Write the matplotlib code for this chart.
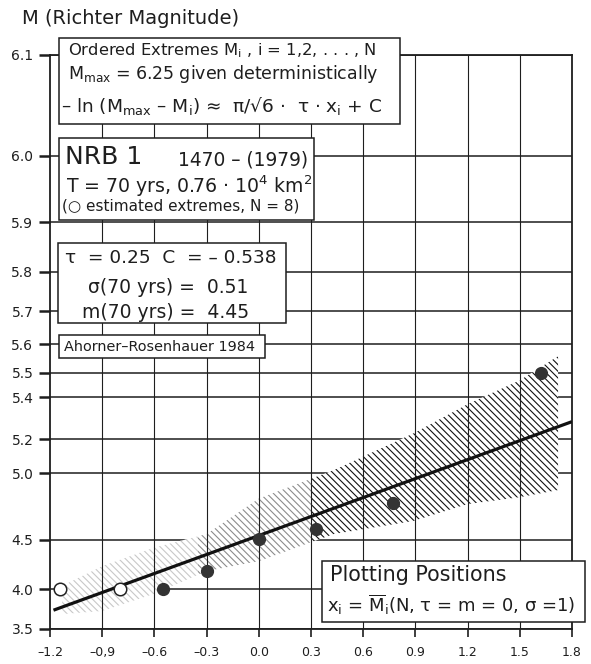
import numpy as np
import matplotlib
matplotlib.use('Agg')
import matplotlib.pyplot as plt
from matplotlib.patches import Rectangle

plt.rcParams['font.family'] = ['DejaVu Sans']
plt.rcParams['mathtext.fontset'] = 'dejavusans'
plt.rcParams['mathtext.default'] = 'regular'
plt.rcParams['hatch.linewidth'] = 0.8

# fit parameters (from the chart text)
M_MAX = 6.25
TAU = 0.25
C = -0.538

# ordered extremes
x_open = [-1.14, -0.80]
m_open = [4.0, 4.0]
x_filled = [-0.55, -0.30, 0.0, 0.33, 0.77, 1.62]
m_filled = [4.0, 4.20, 4.51, 4.59, 4.80, 5.50]

# confidence band
band_x = [-1.13, -0.9, -0.6, -0.3, 0.0, 0.43, 0.89, 1.2, 1.5, 1.72]
band_hi = [4.04, 4.25, 4.43, 4.55, 4.83, 5.02, 5.23, 5.37, 5.47, 5.56]
band_lo = [3.70, 3.74, 3.95, 4.20, 4.30, 4.55, 4.66, 4.79, 4.84, 4.89]

line_x = np.array([-1.18, 1.8])

xticks = [-1.2, -0.9, -0.6, -0.3, 0.0, 0.3, 0.6, 0.9, 1.2, 1.5, 1.8]
xlabels = ['–1.2', '–0,9', '–0.6', '–0.3', '0.0', '0.3', '0.6', '0.9', '1.2', '1.5', '1.8']
yticks = [3.5, 4.0, 4.5, 5.0, 5.2, 5.4, 5.5, 5.6, 5.7, 5.8, 5.9, 6.0, 6.1]


def fwd(m):
    return -np.log(np.clip(M_MAX - np.asarray(m, dtype=float), 1e-9, None))


def inv(f):
    return M_MAX - np.exp(-np.asarray(f, dtype=float))


W, H = 591, 664
fig = plt.figure(figsize=(W / 100, H / 100), dpi=100)
ax = fig.add_axes([50 / W, 1 - 629 / H, 522 / W, 574 / H])
ax.set_yscale('function', functions=(fwd, inv))

ink = '#1e1e1e'

# grid
for m in yticks:
    ax.axhline(m, color=ink, lw=1.1, zorder=1)
for x in xticks[1:-1]:
    ax.axvline(x, color=ink, lw=0.8, zorder=4)

# band: white face hides the horizontal grid, hatch fades to the left
ax.fill_between(band_x, band_lo, band_hi, facecolor='white', edgecolor='none', zorder=2)
for x0, x1, col in [(-1.2, -0.35, '#c8c8c8'), (-0.35, 0.3, '#8c8c8c'), (0.3, 1.8, '#111111')]:
    p = ax.fill_between(band_x, band_lo, band_hi, facecolor='none', edgecolor=col,
                        hatch='\\' * 5, linewidth=0, zorder=3)
    p.set_clip_path(Rectangle((x0, 3.5), x1 - x0, 2.6, transform=ax.transData))

# fitted line: -ln(Mmax - M) = pi/sqrt(6) * tau * x + C
ax.plot(line_x, inv(np.pi / np.sqrt(6) * TAU * line_x + C), color='#111', lw=2.3,
        solid_capstyle='butt', zorder=5)

ax.plot(x_open, m_open, 'o', ms=9, mfc='white', mec='#222', mew=1.1, zorder=6)
ax.plot(x_filled, m_filled, 'o', ms=8.5, mfc='#333', mec='#333', zorder=6)

ax.set_xlim(-1.2, 1.8)
ax.set_ylim(3.5, 6.1)
ax.set_xticks(xticks)
ax.set_xticklabels(xlabels)
ax.set_yticks(yticks)
ax.set_yticklabels([f'{m:.1f}' for m in yticks])
ax.minorticks_off()
ax.tick_params(axis='y', length=8, width=1.8, pad=4, labelsize=10, color=ink, labelcolor=ink)
ax.tick_params(axis='x', length=6, width=1.2, pad=6, labelsize=9, color=ink, labelcolor=ink)
for s in ax.spines.values():
    s.set_linewidth(1.3)
    s.set_color(ink)


def box(x0, y0, x1, y1):
    r = Rectangle((x0 / W, 1 - y1 / H), (x1 - x0) / W, (y1 - y0) / H,
                  transform=fig.transFigure, facecolor='white', edgecolor=ink,
                  lw=1.1, zorder=10, clip_on=False)
    ax.add_patch(r)


def txt(x, y, s, size, **kw):
    ax.text(x / W, 1 - y / H, s, transform=fig.transFigure, fontsize=size,
            va='center', ha='left', color=ink, zorder=11, **kw)


fig.text(22 / W, 1 - 19 / H, 'M (Richter Magnitude)', fontsize=14, va='center', color=ink)

box(59, 38, 400, 124)
txt(68, 51, 'Ordered Extremes M$_{i}$ , i = 1,2, . . . , N', 11.8)
txt(68, 74, 'M$_{max}$ = 6.25 given deterministically', 12.5)
txt(61, 106, '– ln (M$_{max}$ – M$_{i}$) ≈  π/√6 ·  τ · x$_{i}$ + C', 13.3)

box(59, 138, 314, 220)
txt(65, 157, 'NRB 1', 18)
txt(178, 160, '1470 – (1979)', 13.4)
txt(66, 186, 'T = 70 yrs, 0.76 · 10$^{4}$ km$^{2}$', 13.6)
txt(62, 206, '(○ estimated extremes, N = 8)', 11)

box(58, 243, 286, 323)
txt(65, 258, 'τ  = 0.25  C  = – 0.538', 13.3)
txt(88, 287, 'σ(70 yrs) =  0.51', 13.5)
txt(82, 312, 'm(70 yrs) =  4.45', 13.5)

box(59, 335, 265, 358)
txt(64, 347, 'Ahorner–Rosenhauer 1984', 10.4)

box(322, 561, 585, 622)
txt(330, 575, 'Plotting Positions', 14.9)
txt(327, 605, 'x$_{i}$ = $\\overline{M}_{i}$(N, τ = m = 0, σ =1)', 13)

fig.savefig('out.png', dpi=100)
